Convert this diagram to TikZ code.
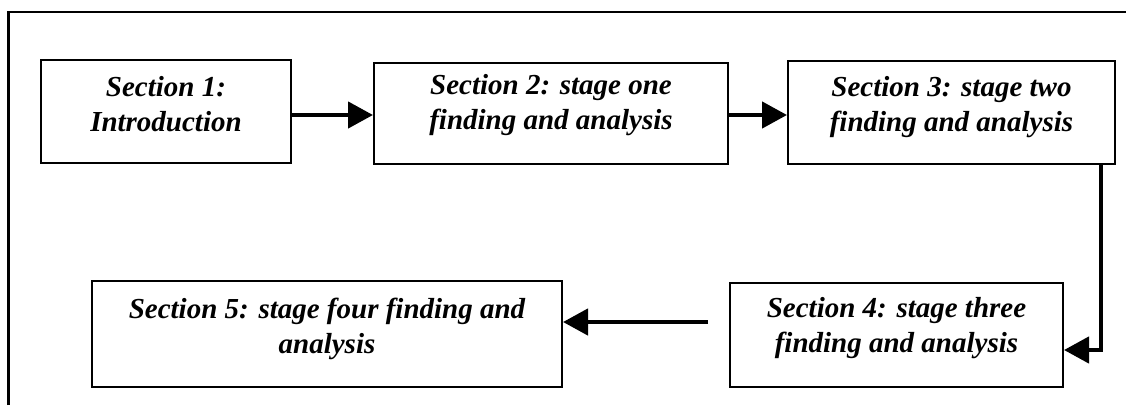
\documentclass[tikz,border=0pt]{standalone}
\usepackage{fontspec}
\setmainfont{Liberation Serif}
\usetikzlibrary{arrows.meta}
\begin{document}
\begin{tikzpicture}[x=1pt,y=-1pt,
  box/.style={draw, line width=2pt, minimum width=#1, inner sep=0pt},
  boxtext/.style={align=center, inner sep=0pt,
    font=\fontsize{29}{35}\selectfont\bfseries\itshape},
  flow/.style={line width=4.5pt, -{Triangle[length=25pt,width=26pt]}},
]
\useasboundingbox (0,0) rectangle (1126,405);
% page frame
\draw[line width=2.5pt] (8.5,405) -- (8.5,12) -- (1126,12);

% section boxes
\node[box=250pt, minimum height=103pt] (b1) at (166,111.5) {};
\node[box=354pt, minimum height=101pt] (b2) at (551,113.5) {};
\node[box=327pt, minimum height=103pt] (b3) at (951.5,112.5) {};
\node[box=333pt, minimum height=104pt] (b4) at (896.5,335) {};
\node[box=470pt, minimum height=106pt] (b5) at (327,334) {};

% box texts (canvas yshift: positive moves up)
\node[boxtext] (t1) at ([yshift=7pt]b1.center) {Section 1:\\Introduction};
\node[boxtext] (t2) at ([yshift=8pt]b2.center) {Section 2: stage one\\finding and analysis};
\node[boxtext] (t3) at ([yshift=5pt]b3.center) {Section 3: stage two\\finding and analysis};
\node[boxtext] (t4) at ([yshift=7pt]b4.center) {Section 4: stage three\\finding and analysis};
\node[boxtext] (t5) at ([yshift=5pt]b5.center) {Section 5: stage four finding and\\analysis};

% connectors
\draw[flow] ([yshift=-3.5pt]b1.east) -- ([yshift=-1.5pt]b2.west);
\draw[flow] ([yshift=-1.5pt]b2.east) -- ([yshift=-2.5pt]b3.west);
\draw[flow] ([xshift=149.5pt]b3.south) |- ([yshift=-15pt]b4.east);
\coordinate (s4) at (708,322);
\draw[flow] (s4) -- (b5.east |- s4);
\end{tikzpicture}
\end{document}
